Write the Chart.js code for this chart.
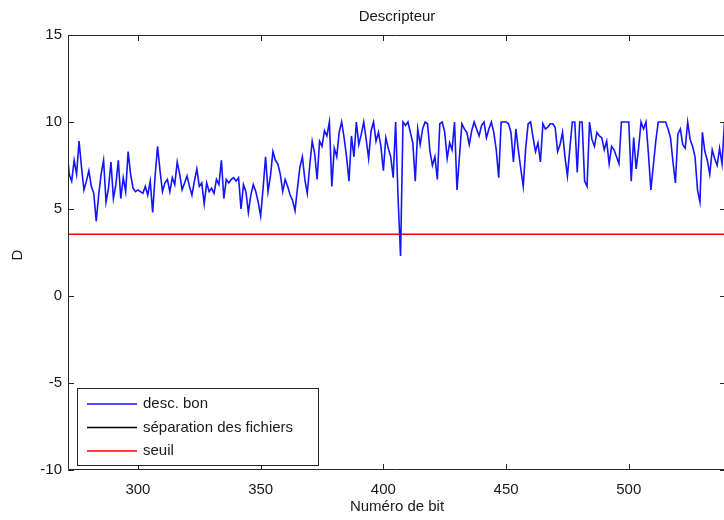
<!DOCTYPE html>
<html>
<head>
<meta charset="utf-8">
<script src="https://cdn.jsdelivr.net/npm/chart.js@4/dist/chart.umd.min.js"></script>
<style>
  html, body { margin: 0; padding: 0; background: #fff; }
  #wrap { width: 724px; height: 520px; position: relative; overflow: hidden; }
</style>
</head>
<body>
<div id="wrap"><canvas id="myChart" width="724" height="520"></canvas></div>
<script>
// descriptor value for each bit, starting at bit 271
const firstBit = 271;
const descBon = [
  8.6, 7.0, 6.6, 7.8, 7.0, 8.9, 7.4, 6.1, 6.6, 7.2,
  6.3, 5.9, 4.3, 5.8, 7.0, 7.8, 5.4, 6.2, 7.7, 5.6,
  6.4, 7.8, 5.6, 6.8, 6.0, 8.3, 7.0, 6.2, 6.0, 6.1,
  6.0, 5.9, 6.3, 5.8, 6.6, 4.8, 6.9, 8.6, 7.2, 6.0,
  6.5, 6.7, 6.0, 6.8, 6.4, 7.7, 7.0, 6.1, 6.5, 6.9,
  6.3, 5.8, 6.6, 7.3, 6.3, 6.5, 5.3, 6.5, 6.0, 6.2,
  5.9, 6.7, 6.4, 7.8, 5.6, 6.7, 6.5, 6.7, 6.8, 6.6,
  6.8, 5.0, 6.4, 6.0, 4.8, 5.8, 6.4, 6.0, 5.4, 4.6,
  6.2, 8.0, 6.0, 6.9, 8.3, 7.8, 7.6, 7.0, 6.0, 6.7,
  6.3, 5.8, 5.5, 4.9, 6.2, 7.4, 8.0, 6.7, 5.9, 7.5,
  8.9, 8.2, 6.7, 8.9, 8.6, 9.5, 9.2, 10, 6.3, 8.5,
  8.0, 9.4, 10, 9.1, 8.0, 6.6, 9.2, 8.0, 10, 8.7,
  9.3, 10, 9.0, 7.9, 9.5, 10, 8.9, 9.4, 8.6, 7.2,
  9.1, 8.5, 8.0, 6.8, 10, 5.6, 2.3, 10, 9.8, 10,
  9.4, 8.8, 6.6, 9.6, 8.7, 9.6, 10, 9.9, 8.3, 7.5,
  8.0, 6.7, 9.9, 10, 9.4, 7.9, 8.8, 8.4, 10, 6.1,
  8.0, 9.9, 9.6, 9.4, 8.7, 9.5, 10, 9.6, 9.2, 9.8,
  10, 9.1, 9.6, 10, 9.4, 8.4, 6.8, 10, 10, 10,
  9.9, 9.4, 7.7, 9.6, 8.4, 7.3, 6.3, 8.5, 9.9, 10,
  9.1, 8.3, 8.8, 7.7, 9.9, 9.6, 9.7, 9.9, 9.9, 9.7,
  8.3, 8.7, 9.4, 8.0, 6.9, 8.5, 10, 10, 7.1, 10,
  10, 6.6, 6.3, 10, 9.0, 8.6, 9.4, 9.2, 9.1, 8.4,
  8.9, 7.6, 8.6, 8.4, 8.0, 7.6, 10, 10, 10, 10,
  6.6, 9.1, 7.3, 8.5, 10, 9.6, 10, 8.2, 6.1, 7.5,
  8.9, 10, 10, 10, 10, 9.6, 9.1, 7.7, 6.5, 9.3,
  9.6, 8.7, 8.5, 10, 9.0, 8.6, 8.0, 6.1, 5.4, 9.4,
  8.3, 7.8, 7.0, 8.4, 7.9, 7.5, 8.5, 7.6, 10
];
const seuil = 3.55;
const xTicks = [300, 350, 400, 450, 500];
const yTicks = [-10, -5, 0, 5, 10, 15];
const legendLabels = ['desc. bon', 'séparation des fichiers', 'seuil'];

const xMin = 271.5;
const xMax = 538.8;

const descPoints = descBon.map((v, i) => ({ x: firstBit + i, y: v }));
const seuilPoints = [{ x: xMin, y: seuil }, { x: xMax, y: seuil }];

const FONT = '"Liberation Sans", Arial, sans-serif';

// MATLAB-like box (right side is cut off), inward ticks, title, labels, legend
const matlabFrame = {
  id: 'matlabFrame',
  afterDatasetsDraw(chart) {
    const { ctx, chartArea: a, scales } = chart;
    ctx.save();
    ctx.strokeStyle = '#262626';
    ctx.lineWidth = 1;
    ctx.beginPath();
    ctx.moveTo(724, a.top + 0.5);
    ctx.lineTo(a.left + 0.5, a.top + 0.5);
    ctx.lineTo(a.left + 0.5, a.bottom - 0.5);
    ctx.lineTo(724, a.bottom - 0.5);
    ctx.stroke();

    const tl = 6;
    ctx.beginPath();
    xTicks.forEach(t => {
      const px = Math.round(scales.x.getPixelForValue(t)) + 0.5;
      ctx.moveTo(px, a.bottom); ctx.lineTo(px, a.bottom - tl);
      ctx.moveTo(px, a.top); ctx.lineTo(px, a.top + tl);
    });
    yTicks.forEach(t => {
      const py = Math.round(scales.y.getPixelForValue(t)) + 0.5;
      ctx.moveTo(a.left, py); ctx.lineTo(a.left + tl, py);
      ctx.moveTo(726, py); ctx.lineTo(726 - tl, py);
    });
    ctx.stroke();

    // title and axis labels
    ctx.fillStyle = '#1a1a1a';
    ctx.font = '15px ' + FONT;
    ctx.textAlign = 'center';
    ctx.textBaseline = 'middle';
    const cx = (a.left + 726) / 2;
    ctx.fillText('Descripteur', cx, 17);
    ctx.fillText('Numéro de bit', cx, 507);
    ctx.save();
    ctx.translate(18, 255);
    ctx.rotate(-Math.PI / 2);
    ctx.fillText('D', 0, 0);
    ctx.restore();

    // legend box
    const lx = 77, ly = 388, lw = 241, lh = 77;
    ctx.fillStyle = '#fff';
    ctx.fillRect(lx, ly, lw, lh);
    ctx.strokeStyle = '#262626';
    ctx.lineWidth = 1;
    ctx.strokeRect(lx + 0.5, ly + 0.5, lw, lh);
    ctx.font = '15px ' + FONT;
    ctx.textAlign = 'left';
    chart.data.datasets.forEach((ds, i) => {
      const y = ly + 16 + i * 23.5;
      ctx.strokeStyle = ds.borderColor;
      ctx.lineWidth = 1.5;
      ctx.beginPath();
      ctx.moveTo(lx + 10, y); ctx.lineTo(lx + 60, y);
      ctx.stroke();
      ctx.fillStyle = '#1a1a1a';
      ctx.fillText(ds.label, lx + 66, y);
    });
    ctx.restore();
  }
};

const ctx = document.getElementById('myChart').getContext('2d');
const myChart = new Chart(ctx, {
  type: 'line',
  data: {
    datasets: [
      {
        label: legendLabels[0],
        data: descPoints,
        borderColor: 'rgb(20, 20, 255)',
        borderWidth: 1.6,
        pointRadius: 0,
        tension: 0
      },
      {
        label: legendLabels[1],
        data: [],
        borderColor: 'rgb(0, 0, 0)',
        borderWidth: 1.5,
        pointRadius: 0
      },
      {
        label: legendLabels[2],
        data: seuilPoints,
        borderColor: 'rgb(255, 0, 0)',
        borderWidth: 1.6,
        pointRadius: 0
      }
    ]
  },
  plugins: [matlabFrame],
  options: {
    responsive: false,
    animation: false,
    layout: { padding: { top: 35, right: 0, left: 0, bottom: 0 } },
    plugins: {
      legend: { display: false },
      title: { display: false },
      tooltip: { enabled: false }
    },
    scales: {
      x: {
        type: 'linear',
        min: xMin,
        max: xMax,
        afterFit: s => { s.height = 50; },
        afterBuildTicks: s => { s.ticks = xTicks.map(v => ({ value: v })); },
        grid: { display: false, drawTicks: false },
        border: { display: false },
        ticks: {
          padding: 11,
          color: '#1a1a1a',
          font: { family: FONT, size: 15 }
        }
      },
      y: {
        min: -10,
        max: 15,
        afterFit: s => { s.width = 68; },
        afterBuildTicks: s => { s.ticks = yTicks.map(v => ({ value: v })); },
        grid: { display: false, drawTicks: false },
        border: { display: false },
        ticks: {
          padding: 6,
          color: '#1a1a1a',
          font: { family: FONT, size: 15 }
        }
      }
    }
  }
});
</script>
</body>
</html>
